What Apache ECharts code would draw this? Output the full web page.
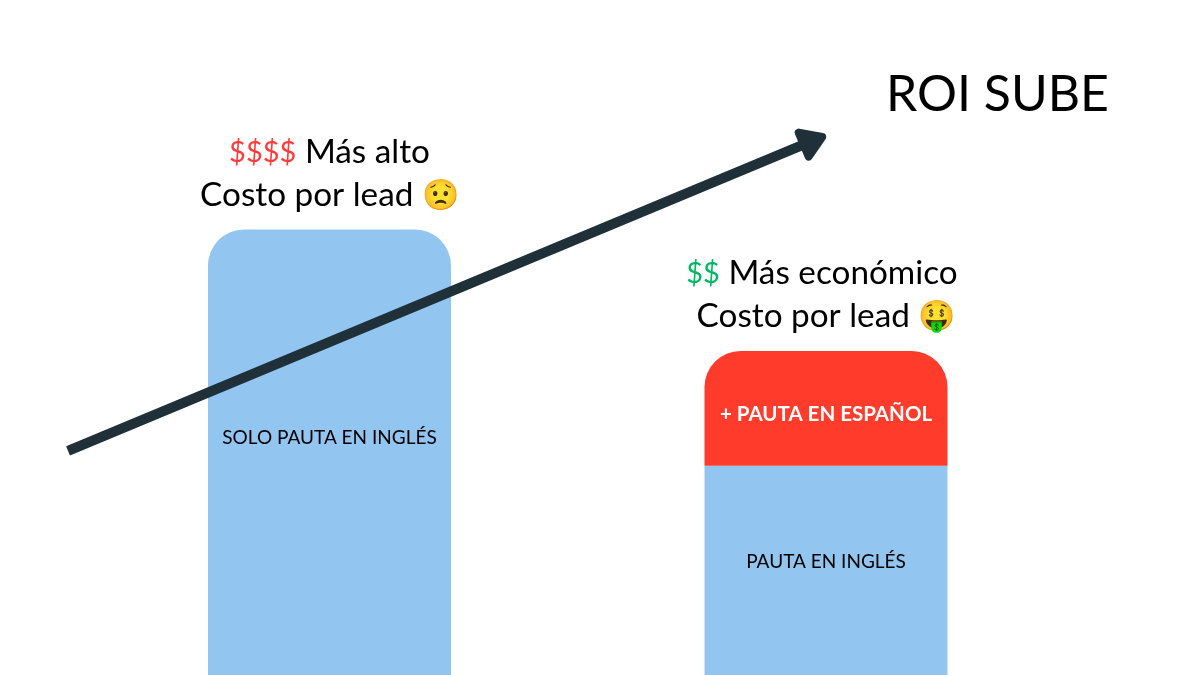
<!DOCTYPE html>
<html><head><meta charset="utf-8">
<style>html,body{margin:0;padding:0;background:#fff}#c{width:1200px;height:675px}</style>
<script src="https://cdn.jsdelivr.net/npm/echarts@6/dist/echarts.min.js"></script></head>
<body><div id="c"></div>
<script>
const categories = ['Solo pauta en inglés', 'Pauta en inglés + español'];
const englishValues = [66, 31];
const spanishValues = [null, 17];
const englishLabels = ['SOLO PAUTA EN INGLÉS', 'PAUTA EN INGLÉS'];
const spanishLabel = '+ PAUTA EN ESPAÑOL';
const headerAnchors = [74.2, 56.3];
const headerPrice = ['$$$$', '$$'];
const headerText = ['Más alto', 'Más económico'];
const headerEmoji = ['😟', '🤑'];
const arrowFrom = [5.67, 33.2];
const arrowTo = [68.9, 80];
const FONT = 'Lato';
const chart = echarts.init(document.getElementById('c'), null, {renderer:'canvas'});
chart.setOption({
  animation:false,
  backgroundColor:'#fff',
  title:{text:'ROI SUBE',left:881,top:65,textStyle:{fontFamily:FONT,fontSize:50,fontWeight:400,color:'#000'}},
  grid:[{left:81.25,right:125.75,top:0,bottom:0},{left:0,right:0,top:0,bottom:0}],
  xAxis:[
    {type:'category',data:categories,show:false,gridIndex:0},
    {type:'value',min:0,max:100,show:false,gridIndex:1}
  ],
  yAxis:[
    {type:'value',min:0,max:100,show:false,gridIndex:0},
    {type:'value',min:0,max:100,show:false,gridIndex:1}
  ],
  series:[
    {type:'bar',stack:'a',barWidth:243,data:englishValues.map((v,i)=>({value:v,
        itemStyle:{borderRadius:i===0?[36,36,0,0]:0},
        label:{show:true,position:'inside',offset:[0,i===0?-14:-8.5],formatter:englishLabels[i],color:'#000',fontFamily:FONT,fontSize:19}})),
      itemStyle:{color:'#92C5F0'}},
    {type:'bar',stack:'a',barWidth:243,data:spanishValues.map(v=>({value:v,
        label:{show:v!=null,position:'inside',offset:[0,6],formatter:spanishLabel,color:'#fff',fontFamily:FONT,fontSize:20.5,fontWeight:700}})),
      itemStyle:{color:'#FF3B2B',borderRadius:[36,36,0,0]}},
    {type:'scatter',symbolSize:0,silent:true,itemStyle:{opacity:1},data:headerAnchors.map((v,i)=>({value:v,
        itemStyle:{opacity:1},
        label:{show:true,position:'inside',opacity:1,
          formatter:'{p|'+headerPrice[i]+'}{t| '+headerText[i]+'}'+(i===1?'{s|}':'')+'\n{t|Costo por lead }{e|'+headerEmoji[i]+'}',
          rich:{p:{fontFamily:FONT,fontSize:29,lineHeight:43,color:i===0?'#FF3B3B':'#00B862',opacity:1},
                t:{fontFamily:FONT,fontSize:33.3,lineHeight:43,color:'#000',opacity:1},
                e:{fontFamily:FONT,fontSize:30,lineHeight:43,color:'#000',opacity:1},
                s:{width:8,height:1}}}}))},
    {type:'custom',xAxisIndex:1,yAxisIndex:1,clip:false,z:5,silent:true,
      data:[[arrowFrom[0],arrowFrom[1],arrowTo[0],arrowTo[1]]],
      renderItem:(p,api)=>{
        const a=api.coord([api.value(0),api.value(1)]),b=api.coord([api.value(2),api.value(3)]);
        const ang=Math.atan2(b[1]-a[1],b[0]-a[0]),ux=Math.cos(ang),uy=Math.sin(ang),nx=-uy,ny=ux;
        const inset=5,len=20,half=13;
        const t=[b[0]-ux*inset,b[1]-uy*inset];
        const base=[t[0]-ux*len,t[1]-uy*len];
        return {type:'group',children:[
          {type:'line',shape:{x1:a[0],y1:a[1],x2:base[0]+ux*3,y2:base[1]+uy*3},style:{stroke:'#1F3038',lineWidth:10}},
          {type:'polygon',shape:{points:[t,[base[0]+nx*half,base[1]+ny*half],[base[0]-nx*half,base[1]-ny*half]]},
           style:{fill:'#1F3038',stroke:'#1F3038',lineWidth:8,lineJoin:'round'}}
        ]};
      }}
  ]
});
</script></body></html>
